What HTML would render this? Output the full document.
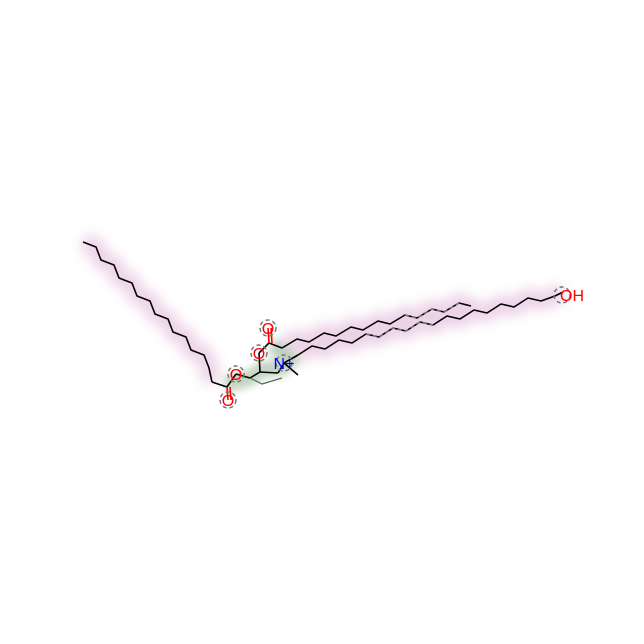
<!DOCTYPE html>
<html><head><meta charset="utf-8"><style>
html,body{margin:0;padding:0;background:#fff;}
svg{display:block;font-family:"Liberation Sans",sans-serif;}
</style></head><body>
<svg id="mol" width="644" height="644" viewBox="0 0 644 644">
<defs>
<filter id="blur" x="-20%" y="-50%" width="140%" height="200%"><feGaussianBlur stdDeviation="6"/></filter>
<filter id="blur2" x="-50%" y="-50%" width="200%" height="200%"><feGaussianBlur stdDeviation="4"/></filter>
</defs>
<rect width="644" height="644" fill="#fff"/>
<g id="glow" filter="url(#blur)" opacity="0.5"></g>
<g id="green" filter="url(#blur2)" opacity="0.55"></g>
<g id="bonds" stroke="#000" stroke-width="1.6" fill="none" stroke-linejoin="round"></g>
<g id="dash" stroke="#777" stroke-width="1.6" fill="none" stroke-dasharray="4,3"></g>
<g id="labels" font-size="16"></g>
</svg>
<script>
const leftChainStart=[83,242];
const leftSteps=[[13,5],[5,13]];
const leftPairs=7;
const upperStart=[282,348];
const upperSteps=[[15,-9],[12,3]];
const upperPairs=7;
const lowerStart=[298,355];
const lowerSteps=[[14,-9],[13,3]];
const lowerPairs=9;
const coreBonds=[[[212,382],[227,387]],[[227,387],[236,374]],[[236,374],[250,378]],[[250,378],[260,372]],[[260,372],[278,373]],[[278,373],[284,363]],[[260,372],[259,353]],[[259,353],[269,343]],[[269,343],[282,348]],[[284,363],[298,375]],[[284,363],[298,355]]];
const dbl=[[[227,387],[228,400]],[[269,343],[268,328]]];
const atoms=[["O",236,380,"#f00"],["O",228,406,"#f00"],["O",259,359,"#f00"],["O",268,334,"#f00"],["N+",284,369,"#00f"],["OH",570,301,"#f00"]];
const NS="http://www.w3.org/2000/svg";
function chain(start,steps,pairs){const p=[start.slice()];let c=start.slice();for(let i=0;i<pairs*2;i++){const s=steps[i%2];c=[c[0]+s[0],c[1]+s[1]];p.push(c.slice());}return p;}
function poly(g,pts,attrs,name){const e=document.createElementNS(NS,'polyline');e.setAttribute('points',pts.map(p=>p.join(',')).join(' '));for(const k in attrs)e.setAttribute(k,attrs[k]);


document.getElementById(g).appendChild(e);return e;}
const L=chain(leftChainStart,leftSteps,leftPairs);L.push([212,382]);
const U=chain(upperStart,upperSteps,upperPairs);
const W=chain(lowerStart,lowerSteps,lowerPairs);W.push([555,296],[563,292]);
[L,U,W].forEach((c,i)=>poly('glow',c,{stroke:'#d9a6cf','stroke-width':18,fill:'none'},'chain-glow'));
poly('green',[[225,385],[250,378],[262,370],[282,368],[290,360],[272,345]],{stroke:'#8fb08f','stroke-width':16,fill:'none'},'core-glow');
poly('bonds',L,{},'left-alkyl-chain');
poly('bonds',U,{},'upper-alkyl-chain');
poly('bonds',W,{},'lower-alkyl-chain');
coreBonds.forEach(b=>poly('bonds',b,{},'core-bond'));
dbl.forEach(b=>{poly('bonds',b,{stroke:'#f00'},'carbonyl-bond');poly('bonds',b.map(p=>[p[0]+3,p[1]]),{stroke:'#f00'},'carbonyl-bond');});
poly('dash',U.slice(9,14),{},'dashed-highlight');
poly('dash',W.slice(5,11),{},'dashed-highlight');
poly('bonds',[[250,378],[262,384],[282,378]],{stroke:'#556655','stroke-width':1.2},'core-contour');
atoms.forEach(a=>{
const c=document.createElementNS(NS,'circle');c.setAttribute('cx',a[1]+(a[0]=='OH'?-8:0));c.setAttribute('cy',a[2]-6);c.setAttribute('r',8);c.setAttribute('fill','none');c.setAttribute('stroke','#777');c.setAttribute('stroke-dasharray','4,3');c.setAttribute('stroke-width','1.5');


document.getElementById('dash').appendChild(c);
const t=document.createElementNS(NS,'text');t.setAttribute('x',a[1]);t.setAttribute('y',a[2]);t.setAttribute('text-anchor',a[0]=='OH'?'start':'middle');t.setAttribute('fill',a[3]);t.textContent=a[0];
if(a[0]=='OH')t.setAttribute('x',a[1]-10);


document.getElementById('labels').appendChild(t);});
</script>
</body></html>
